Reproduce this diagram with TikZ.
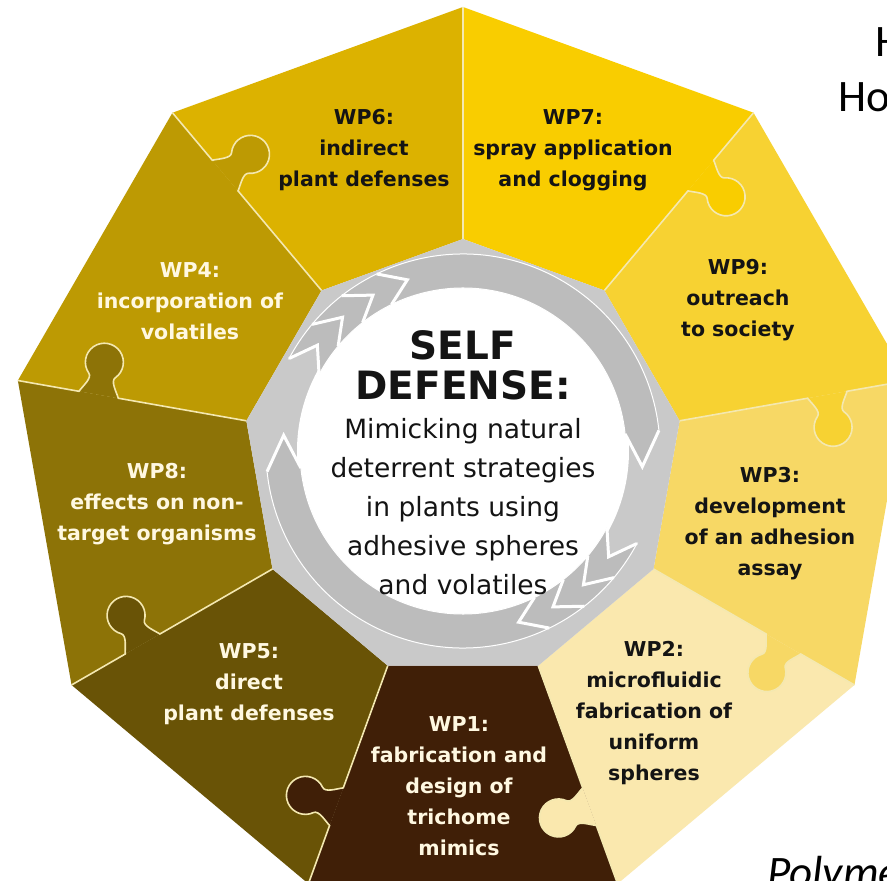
\documentclass[tikz,border=0pt]{standalone}
\usepackage{fontspec}
\setmainfont{DejaVu Sans}
\newfontfamily\carlito{Carlito}
\usepackage{xcolor}
\usetikzlibrary{positioning}

\definecolor{wpsix}{HTML}{DCB200}
\definecolor{wpseven}{HTML}{F9CD00}
\definecolor{wpnine}{HTML}{F7D232}
\definecolor{wpthree}{HTML}{F7D865}
\definecolor{wptwo}{HTML}{FAE8AE}
\definecolor{wpone}{HTML}{401F07}
\definecolor{wpfive}{HTML}{695306}
\definecolor{wpeight}{HTML}{8D7307}
\definecolor{wpfour}{HTML}{BD9A03}
\definecolor{ringgray}{HTML}{C9C9C9}
\definecolor{arrowgray}{HTML}{BCBCBC}
\definecolor{seamcream}{HTML}{F4E8B0}
\definecolor{inkdark}{HTML}{141414}
\definecolor{inklight}{HTML}{FFF8E1}

\newcommand{\wpfont}{\fontsize{20.5}{31}\selectfont\bfseries}
\newcommand{\titlefont}{\fontsize{39}{40}\selectfont\bfseries}
\newcommand{\bodyfont}{\fontsize{26.5}{39}\selectfont}
\newcommand{\sidefont}{\carlito\fontsize{45}{54}\selectfont}

\begin{document}
\begin{tikzpicture}[x=1pt, y=1pt, every node/.style={align=center, inner sep=0pt}, darkwp/.style={font=\wpfont, text=inkdark}, lightwp/.style={font=\wpfont, text=inklight}, seam/.style={draw=seamcream, line width=1.6pt}, cyclearrow/.style={fill=arrowgray, draw=white, line width=1pt}, chevron/.style={draw=white, line width=3pt}]
	\useasboundingbox (-463,-422) rectangle (424,459);
	\fill[white] (-463,-422) rectangle (424,459);
	\foreach \a/\col in {90/wpsix, 130/wpfour, 170/wpeight, 210/wpfive, 250/wpone, 290/wptwo, 330/wpthree, 10/wpnine, 50/wpseven}
		\fill[\col] (\a:452) -- ({\a+40}:452) -- ({\a+40}:220) -- (\a:220) -- cycle;
	\foreach \a/\col in {130/wpfour, 170/wpeight, 210/wpfive, 250/wpone, 290/wptwo, 330/wpthree, 10/wpnine, 50/wpseven}{
		\fill[\col, rotate=\a] (390,0) .. controls (387,-6) and (379.2,-15.4) .. (383.4,-19.6) arc[start angle=45, end angle=-225, radius=19] .. controls (360.8,-15.4) and (353,-6) .. (350,0) -- cycle;
		\draw[seam, rotate=\a] (452,0) -- (390,0) .. controls (387,-6) and (379.2,-15.4) .. (383.4,-19.6) arc[start angle=45, end angle=-225, radius=19] .. controls (360.8,-15.4) and (353,-6) .. (350,0) -- (220,0);
	}
	\draw[seam] (90:452) -- (90:220);
	\fill[ringgray] (90:220) \foreach \a in {130,170,...,410} { -- (\a:220)} -- cycle;
	\coordinate (hub) at (0,8);
	\fill[white] (hub) circle[radius=166];
	\begin{scope}
		\clip (90:220) \foreach \a in {130,170,...,410} { -- (\a:220)} -- cycle;
		\foreach \r in {0,180}{
			\begin{scope}[shift={(hub)}, rotate=\r]
				\draw[cyclearrow] (152:197) arc[start angle=152, end angle=6, radius=197] -- (-5:180) -- (6:163) arc[start angle=6, end angle=152, radius=163] -- (144:180) -- cycle;
				\draw[chevron] (6:197) -- (-5:180) -- (6:163);
				\draw[chevron] (152:197) -- (144:180) -- (152:163);
				\foreach \f in {140,128,116}
					\draw[chevron] (\f:197) -- ({\f-8}:180) -- (\f:163);
			\end{scope}
		}
	\end{scope}

	\node[darkwp] (wp6) at (-99,309) {WP6:\\indirect\\plant defenses};
	\node[darkwp] (wp7) at (110,309) {WP7:\\spray application\\and clogging};
	\node[darkwp] (wp9) at (275,159) {WP9:\\outreach\\to society};
	\node[darkwp] (wp3) at (307,-65) {WP3:\\development\\of an adhesion\\assay};
	\node[darkwp] (wp2) at (191,-254) {WP2:\\microfluidic\\fabrication of\\uniform\\spheres};
	\node[lightwp] (wp1) at (-4,-327) {WP1:\\fabrication and\\design of\\trichome\\mimics};
	\node[lightwp] (wp5) at (-214,-225) {WP5:\\direct\\plant defenses};
	\node[lightwp] (wp8) at (-306,-45) {WP8:\\effects on non-\\target organisms};
	\node[lightwp] (wp4) at (-273,158) {WP4:\\incorporation of\\volatiles};

	\node[font=\titlefont, text=inkdark] (title) at (0,94) {SELF\\DEFENSE:};
	\node[font=\bodyfont, text=inkdark, below=18pt of title] (body) {Mimicking natural\\deterrent strategies\\in plants using\\adhesive spheres\\and volatiles};

	\node[font=\sidefont, anchor=base west] (head1) at (412,402) {H};
	\node[font=\sidefont, anchor=base west] (head2) at (375,347) {Ho};
	\node[font=\sidefont\itshape, anchor=base west] (journal) at (304,-428) {Polyme};
\end{tikzpicture}
\end{document}
